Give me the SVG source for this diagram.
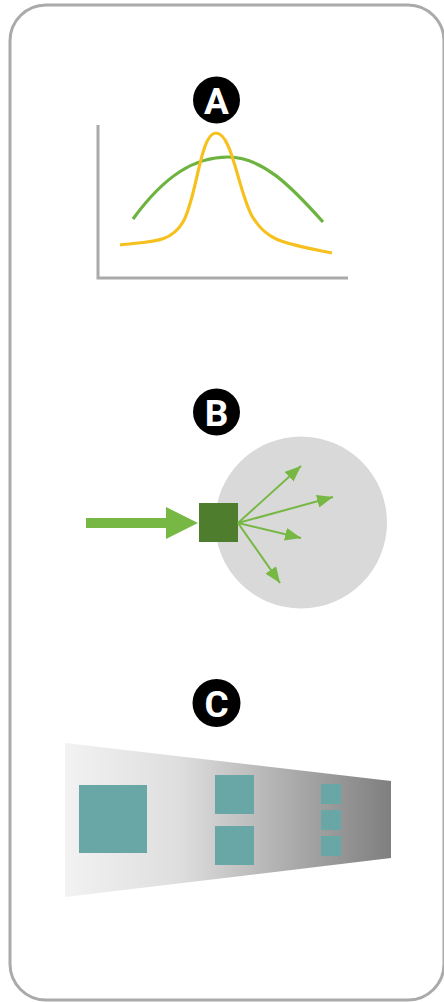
<svg xmlns="http://www.w3.org/2000/svg" width="444" height="1002" viewBox="0 0 444 1002">
  <style>
    .badge { fill: #000; }
    .badge-label { fill: #fff; font-family: "Roboto", "Liberation Sans", sans-serif; font-weight: bold; font-size: 37px; text-anchor: middle; }
    .axis { fill: none; stroke: #aaaaaa; stroke-width: 3; }
    .curve { fill: none; stroke-width: 3.2; stroke-linecap: butt; }
    .ray { stroke: #76b843; stroke-width: 2; fill: none; }
    .tile { fill: #69a7a7; }
  </style>
  <defs>
    <marker id="tip" viewBox="0 0 16 13" refX="16" refY="6.5" markerWidth="8" markerHeight="6.5" markerUnits="strokeWidth" orient="auto">
      <path d="M0,0 L16,6.5 L0,13 Z" fill="#76b843"/>
    </marker>
    <linearGradient id="fade" x1="65" y1="0" x2="391" y2="0" gradientUnits="userSpaceOnUse">
      <stop offset="0" stop-color="#f2f2f2"/>
      <stop offset="0.35" stop-color="#dedede"/>
      <stop offset="1" stop-color="#7f7f7f"/>
    </linearGradient>
  </defs>

  <!-- outer frame -->
  <rect x="10" y="5" width="434" height="995" rx="36" ry="36" fill="#fff" stroke="#aaaaaa" stroke-width="3"/>

  <!-- panel A: distributions -->
  <g id="panel-a">
    <circle class="badge" cx="216.5" cy="100" r="23.5"/>
    <text class="badge-label" x="216.5" y="113.5">A</text>
    <path class="axis" d="M98,125 V278 H348"/>
    <path class="curve" stroke="#6db33f" d="M133,219 C165,175 195,157 228,157 C262,157 290,185 323,222"/>
    <path class="curve" stroke="#f6c11f" d="M120,245 C150,241 170,244 183,222 C197,198 200,133 216,133 C232,133 238,190 252,216 C266,240 280,243 332,253"/>
  </g>

  <!-- panel B: scattering -->
  <g id="panel-b">
    <circle class="badge" cx="216.5" cy="412" r="23.5"/>
    <text class="badge-label" x="216.5" y="425.5">B</text>
    <circle cx="301" cy="522.5" r="86" fill="#d9d9d9"/>
    <rect x="86" y="518" width="82" height="10" fill="#76b843"/>
    <polygon points="166,507 198,523 166,539" fill="#76b843"/>
    <rect x="199" y="503" width="39" height="39" fill="#4e7d2d"/>
  </g>

  <g id="connectors">
    <line class="ray" x1="238" y1="523" x2="301" y2="466" marker-end="url(#tip)"/>
    <line class="ray" x1="238" y1="523" x2="333" y2="497" marker-end="url(#tip)"/>
    <line class="ray" x1="238" y1="523" x2="301" y2="538" marker-end="url(#tip)"/>
    <line class="ray" x1="238" y1="523" x2="280" y2="583" marker-end="url(#tip)"/>
  </g>

  <!-- panel C: tapering gradient with tiles -->
  <g id="panel-c">
    <circle class="badge" cx="216.5" cy="703" r="24"/>
    <text class="badge-label" x="216.5" y="716.5">C</text>
    <polygon points="65,743 391,781 391,858 65,897" fill="url(#fade)"/>
    <rect class="tile" x="79" y="785" width="68" height="68"/>
    <rect class="tile" x="215" y="775" width="39" height="39"/>
    <rect class="tile" x="215" y="826" width="39" height="39"/>
    <rect class="tile" x="321" y="784" width="20" height="20"/>
    <rect class="tile" x="321" y="810" width="20" height="20"/>
    <rect class="tile" x="321" y="836" width="20" height="20"/>
  </g>
</svg>
